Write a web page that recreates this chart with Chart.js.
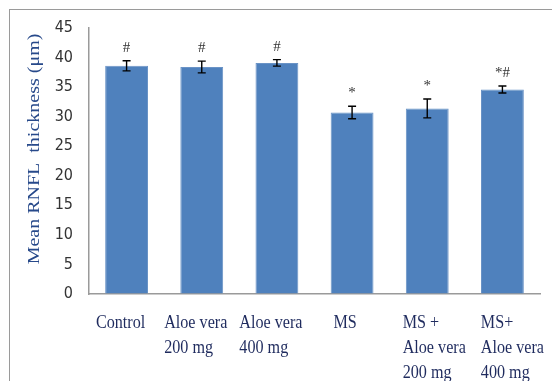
<!DOCTYPE html>
<html>
<head>
<meta charset="utf-8">
<script src="https://cdn.jsdelivr.net/npm/chart.js@4"></script>
<style>
html, body { margin: 0; padding: 0; background: #fff; overflow: hidden; }
#wrap { position: relative; width: 552px; height: 381px; }
#frame { position: absolute; left: 9px; top: 9px; width: 600px; height: 400px;
         border-left: 1px solid #9a9a9a; border-top: 1px solid #9a9a9a; }
#chartCanvas { position: absolute; left: 0; top: 0; }
</style>
</head>
<body>
<div id="wrap">
  <div id="frame"></div>
  <canvas id="chartCanvas" width="552" height="381"></canvas>
</div>
<script>
// values
const groups = [
    ['Control'],
    ['Aloe vera', '200 mg'],
    ['Aloe vera', '400 mg'],
    ['MS'],
    ['MS +', 'Aloe vera', '200 mg'],
    ['MS+', 'Aloe vera', '400 mg']
];
const means  = [38.6, 38.4, 39.1, 30.7, 31.4, 34.6];
const errors = [0.85, 1.0, 0.55, 1.05, 1.6, 0.6];
const marks  = ['#', '#', '#', '*', '*', '*#'];
const yMax = 45;
const yStep = 5;
const yTitle = 'Mean RNFL  thickness (\u03bcm)';

// error bars, significance marks and the serif (squeezed) text
let extrasPlugin = {
    id: 'extras',
    afterDatasetsDraw: function (chart) {
        let ctx = chart.ctx;
        let x = chart.scales.x;
        let y = chart.scales.y;
        ctx.save();
        ctx.strokeStyle = '#000';
        ctx.lineWidth = 1.4;
        means.forEach(function (m, i) {
            let px = x.getPixelForValue(i);
            let top = y.getPixelForValue(m + errors[i]);
            let bot = y.getPixelForValue(m - errors[i]);
            ctx.beginPath();
            ctx.moveTo(px, top); ctx.lineTo(px, bot);
            ctx.moveTo(px - 4, top); ctx.lineTo(px + 4, top);
            ctx.moveTo(px - 4, bot); ctx.lineTo(px + 4, bot);
            ctx.stroke();

            ctx.fillStyle = '#333';
            ctx.font = '15px "Liberation Serif", serif';
            ctx.textAlign = 'center';
            ctx.textBaseline = 'middle';
            ctx.fillText(marks[i], px, top - 13);
        });
        ctx.restore();
    },
    afterDraw: function (chart) {
        let ctx = chart.ctx;
        let x = chart.scales.x;
        let sx = 0.85;
        let nudge = [-6, -6, -6, -7, 7, 10];
        ctx.save();
        ctx.font = '19px "Liberation Serif", "Times New Roman", serif';
        ctx.fillStyle = '#1f2b5e';
        ctx.textBaseline = 'alphabetic';
        ctx.textAlign = 'left';
        groups.forEach(function (lines, i) {
            let w = Math.max.apply(null, lines.map(function (l) { return ctx.measureText(l).width; })) * sx;
            let left = x.getPixelForValue(i) + nudge[i] - w / 2;
            lines.forEach(function (l, j) {
                ctx.save();
                ctx.translate(left, 328 + j * 25);
                ctx.scale(sx, 1);
                ctx.fillText(l, 0, 0);
                ctx.restore();
            });
        });

        ctx.fillStyle = '#27498a';
        ctx.font = '20px "Liberation Serif", "Times New Roman", serif';
        ctx.textAlign = 'center';
        ctx.textBaseline = 'middle';
        ctx.translate(35, 149);
        ctx.rotate(-Math.PI / 2);
        ctx.scale(1, 0.85);
        ctx.fillText(yTitle, 0, 0);
        ctx.restore();
    }
};

let config = {
    type: 'bar',
    data: {
        labels: groups,
        datasets: [{
            label: 'RNFL',
            data: means,
            backgroundColor: '#4f81bd',
            borderColor: '#6a93c6',
            borderWidth: 1,
            categoryPercentage: 1.0,
            barPercentage: 0.57
        }]
    },
    options: {
        responsive: false,
        animation: false,
        layout: { padding: { top: 28, right: 12, left: 0, bottom: 0 } },
        plugins: {
            legend: { display: false },
            tooltip: { enabled: false }
        },
        scales: {
            x: {
                grid: { color: 'rgba(0,0,0,0)', drawTicks: false },
                border: { display: true, color: '#9a9a9a', width: 1.5 },
                ticks: { display: false },
                afterFit: function (scale) { scale.height = 87; }
            },
            y: {
                min: 0,
                max: yMax,
                grid: { color: 'rgba(0,0,0,0)', drawTicks: false },
                border: { display: true, color: '#9a9a9a', width: 1.5 },
                ticks: {
                    stepSize: yStep,
                    padding: 16,
                    color: '#333',
                    font: { family: '"Liberation Sans Narrow", "DejaVu Sans Condensed", sans-serif', size: 16 }
                },
                afterFit: function (scale) { scale.width = 89; }
            }
        }
    },
    plugins: [extrasPlugin]
};

let chartCanvas = document.getElementById('chartCanvas').getContext('2d');
let chart = new Chart(chartCanvas, config);
</script>
</body>
</html>
